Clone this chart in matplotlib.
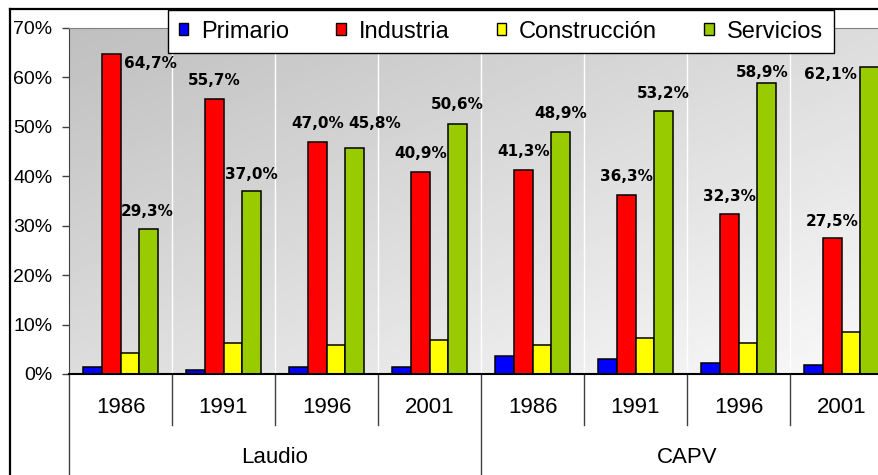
import matplotlib
matplotlib.use("Agg")
import matplotlib.pyplot as plt
import matplotlib.transforms as mtransforms
from matplotlib.lines import Line2D
from matplotlib.patches import Patch
import numpy as np

plt.rcParams['font.family'] = ['Liberation Sans', 'DejaVu Sans']

# data
regions = ['Laudio', 'CAPV']
years = ['1986', '1991', '1996', '2001']
series_names = ['Primario', 'Industria', 'Construcción', 'Servicios']
primario = [1.5, 0.8, 1.5, 1.5, 3.6, 3.0, 2.3, 1.8]
industria = [64.7, 55.7, 47.0, 40.9, 41.3, 36.3, 32.3, 27.5]
construccion = [4.3, 6.2, 5.9, 6.9, 5.9, 7.3, 6.3, 8.4]
servicios = [29.3, 37.0, 45.8, 50.6, 48.9, 53.2, 58.9, 62.1]
series = [primario, industria, construccion, servicios]
colors = ['#0000ff', '#ff0000', '#ffff00', '#99cc00']

# label offsets in pixels (dx, dy above bar top)
ind_offsets = [(39, -9), (0, 18), (0, 18), (0, 18), (0, 18), (0, 18), (0, 18), (0, 17)]
serv_offsets = [(-1, 18), (0, 17), (20, 24), (0, 19), (0, 19), (0, 18), (-4, 10), (-39, -7)]

W, H = 879, 475
fig = plt.figure(figsize=(W / 100, H / 100), dpi=100)
ax = fig.add_axes([69 / W, 1 - 374 / H, 824 / W, 346 / H])

n = len(industria)
x = np.arange(n)
width = 0.18

# gradient background, darker at top left
gy, gx = np.mgrid[0:1:200j, 0:1:200j]
grad = 0.75 + 0.23 * (gx + gy) / 2
ax.imshow(grad, cmap='gray', vmin=0, vmax=1, extent=[0, 1, 0, 1], origin='upper',
          transform=ax.transAxes, aspect='auto', zorder=0, interpolation='bilinear')

for xv in np.arange(0.5, n - 0.5, 1):
    ax.axvline(xv, color='white', lw=1, zorder=1)

for k, (vals, c) in enumerate(zip(series, colors)):
    ax.bar(x + (k - 1.5) * width, vals, width, color=c, edgecolor='black',
           linewidth=1.1, zorder=3, label=series_names[k])

def fmt(v):
    return f"{v:.1f}%".replace('.', ',')

for i in range(n):
    for vals, offs, k in [(industria, ind_offsets, 1), (servicios, serv_offsets, 3)]:
        dx, dy = offs[i]
        ax.annotate(fmt(vals[i]), (x[i] + (k - 1.5) * width, vals[i]),
                    xytext=(dx, dy), textcoords='offset pixels', ha='center', va='center',
                    fontsize=11, fontweight='bold', family='DejaVu Sans', zorder=5)

ax.set_xlim(-0.5, n - 0.5)
ax.set_ylim(0, 70)
ax.set_yticks(range(0, 71, 10))
ax.set_yticklabels([f"{v}%" for v in range(0, 71, 10)], fontsize=14)
ax.tick_params(axis='y', direction='out', length=5, width=1, color='#404040', pad=7)
ax.set_xticks([])
ax.spines['right'].set_visible(False)
ax.spines['top'].set_color('#808080')
ax.spines['left'].set_color('#404040')
ax.spines['bottom'].set_color('black')
ax.spines['bottom'].set_linewidth(1.5)
ax.spines['bottom'].set_zorder(6)

# two-level category axis
trans = mtransforms.blended_transform_factory(ax.transData, ax.transAxes)
for i in range(n):
    ax.text(x[i], -0.098, years[i % 4], transform=trans, ha='center', va='center', fontsize=16)
for b in np.arange(-0.5, n, 1):
    low = -0.35 if b in (-0.5, 3.5, 7.5) else -0.147
    ax.plot([b, b], [0, low], transform=trans, color='#404040', lw=1, clip_on=False)
for j, r in enumerate(regions):
    ax.text(1.5 + 4 * j, -0.24, r, transform=trans, ha='center', va='center', fontsize=16)

# outer chart frame
fx = 10 / W
fy = 1 - 9 / H
fig.add_artist(Line2D([fx, fx], [0, fy], transform=fig.transFigure, color='black', lw=1.6))
fig.add_artist(Line2D([fx, 1], [fy, fy], transform=fig.transFigure, color='black', lw=1.6))

handles = [Patch(facecolor=c, edgecolor='black', linewidth=1) for c in colors]
leg = fig.legend(handles, series_names, ncol=4, loc='upper left',
                 bbox_to_anchor=(168 / W, 1 - 10 / H), frameon=True, fancybox=False,
                 edgecolor='black', framealpha=1, fontsize=17, handlelength=0.4,
                 handleheight=0.4, handletextpad=0.55, columnspacing=2.0,
                 borderpad=0.45, borderaxespad=0)
leg.get_frame().set_linewidth(1)
leg.set_zorder(10)

fig.savefig('out.png', dpi=100)
